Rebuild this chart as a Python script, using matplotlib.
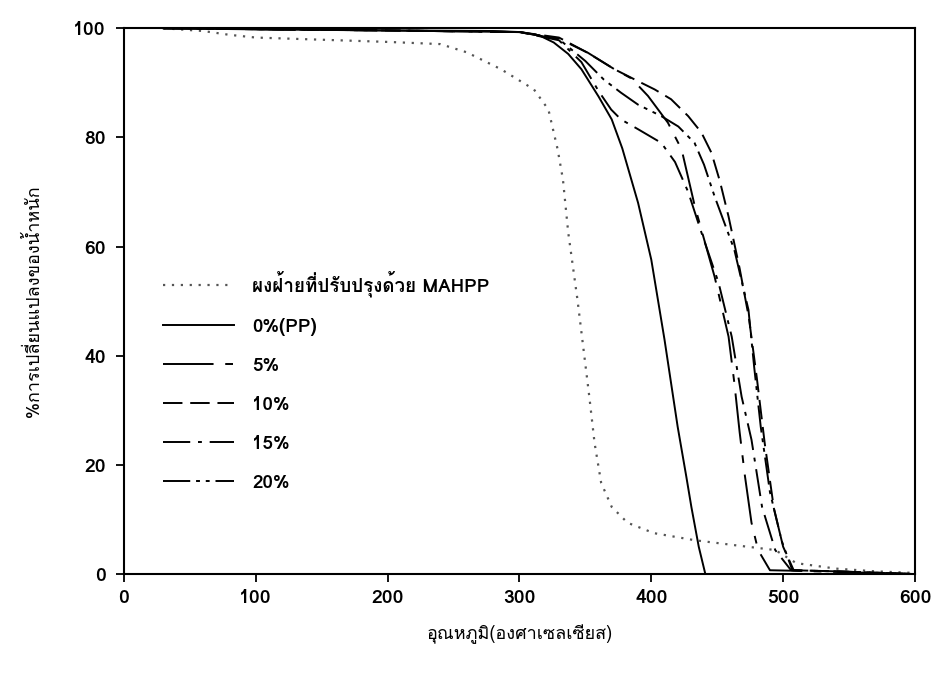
import matplotlib
matplotlib.use("Agg")
import matplotlib.pyplot as plt
from matplotlib import font_manager
from matplotlib.ft2font import FT2Font

# TGA curves: weight remaining vs temperature
mahpp_temp = [30, 60, 80, 100, 150, 200, 240, 260, 286, 311, 322, 329, 333, 337, 344,
              353, 357, 362, 370, 382, 402, 433, 463, 494, 510, 540, 570, 600]
mahpp_wt = [100, 99.5, 98.8, 98.3, 97.9, 97.5, 97.1, 95.6, 92.5, 88.8, 85.1, 77.8, 72.3,
            62.6, 50.3, 32.5, 24, 16.7, 12.3, 9.4, 7.5, 6.2, 5.3, 4.4, 2.0, 1.0, 0.5, 0.2]

pp_temp = [30, 100, 200, 280, 301, 315, 326, 337, 347, 360, 370, 378, 390, 400, 410, 420,
           426.6, 430.4, 436, 441, 600]
pp_wt = [100, 99.8, 99.6, 99.5, 99.3, 98.7, 97.4, 95.3, 92.5, 87.5, 83.3, 78, 68, 57.6, 43,
         27, 17.8, 12.3, 5, 0, 0]

p5_temp = [30, 200, 300, 330, 352, 372, 385, 397.5, 412.6, 423, 433, 448, 458.6, 463,
           467, 471, 476, 481, 490, 510, 600]
p5_wt = [100, 99.6, 99.3, 98.1, 95.5, 92.5, 90.8, 87.6, 82.7, 77.8, 67.4, 54.5, 43.5, 35,
         26, 18, 9.4, 4.4, 0.7, 0.6, 0]

p10_temp = [30, 200, 300, 330, 351.8, 372, 390, 402.5, 415, 428, 438, 445.6, 452, 458.6,
            467, 474, 480, 486, 493, 500, 508, 540, 600]
p10_wt = [100, 99.6, 99.3, 98.3, 95.5, 92.5, 90.3, 88.8, 87, 83.9, 80.9, 77.2, 72, 65.5,
          56, 47, 36, 24, 12, 5, 0.7, 0.5, 0]

p15_temp = [30, 200, 300, 330, 347, 360, 369.6, 377, 390, 407.6, 418, 428, 438, 451, 461,
            468.5, 476, 484, 494, 506, 540, 600]
p15_wt = [100, 99.6, 99.3, 97.8, 93.8, 88.5, 85.1, 83.3, 81.5, 79, 75.5, 70, 62.6, 53.4,
          43.5, 32.5, 24.6, 12.3, 4.4, 0.7, 0.5, 0]

p20_temp = [30, 200, 300, 330, 350, 364, 377, 390, 407.6, 420.5, 432.8, 440, 448, 463,
            473.7, 478, 483, 490, 499, 507, 540, 600]
p20_wt = [100, 99.6, 99.3, 98.0, 94, 90.6, 88.2, 86, 83.9, 82, 79, 75, 69.2, 59.4, 48.4,
          38, 27, 15, 6, 0.7, 0.5, 0]


def thai_family():
    # pick any installed font that carries Thai glyphs
    for f in font_manager.fontManager.ttflist:
        try:
            if 0x0E01 in FT2Font(f.fname).get_charmap():
                return f.name
        except Exception:
            pass
    return None


th = thai_family()
families = ([th] if th else []) + ['Liberation Sans', 'DejaVu Sans']
plt.rcParams['font.family'] = families
plt.rcParams['font.weight'] = 'bold'

fig = plt.figure(figsize=(9.38, 6.73), dpi=100)
ax = fig.add_axes([0.132, 0.147, 0.8435, 0.811])

lw = 1.4
ax.plot(mahpp_temp, mahpp_wt, color='#555555', lw=1.6, linestyle=(0, (1, 3)),
        label='ผงฝ้ายที่ปรับปรุงด้วย MAHPP')
ax.plot(pp_temp, pp_wt, color='black', lw=lw, linestyle='-', label='0%(PP)')
ax.plot(p5_temp, p5_wt, color='black', lw=lw, linestyle=(0, (26, 6, 4, 6)), label='5%')
ax.plot(p10_temp, p10_wt, color='black', lw=lw, linestyle=(0, (10, 4)), label='10%')
ax.plot(p15_temp, p15_wt, color='black', lw=lw, linestyle=(0, (14, 4, 2, 4)), label='15%')
ax.plot(p20_temp, p20_wt, color='black', lw=lw, linestyle=(0, (14, 3, 2, 3, 2, 3)), label='20%')

ax.set_xlim(0, 600)
ax.set_ylim(0, 100)
ax.set_xticks(range(0, 601, 100))
ax.set_yticks(range(0, 101, 20))
ax.tick_params(direction='out', length=6, width=1.3, labelsize=14)
ax.tick_params(axis='x', pad=5)
ax.tick_params(axis='y', pad=7)
for s in ax.spines.values():
    s.set_linewidth(1.5)

ax.set_xlabel('อุณหภูมิ(องศาเซลเซียส)', fontsize=13, labelpad=12)
ax.set_ylabel('%การเปลี่ยนแปลงของน้ำหนัก', fontsize=13, labelpad=22)

ax.legend(loc='upper left', bbox_to_anchor=(0.04, 0.57), frameon=False, fontsize=13.5,
          handlelength=3.8, handletextpad=0.95, labelspacing=1.12, borderaxespad=0)

fig.savefig('out.png', dpi=100)
